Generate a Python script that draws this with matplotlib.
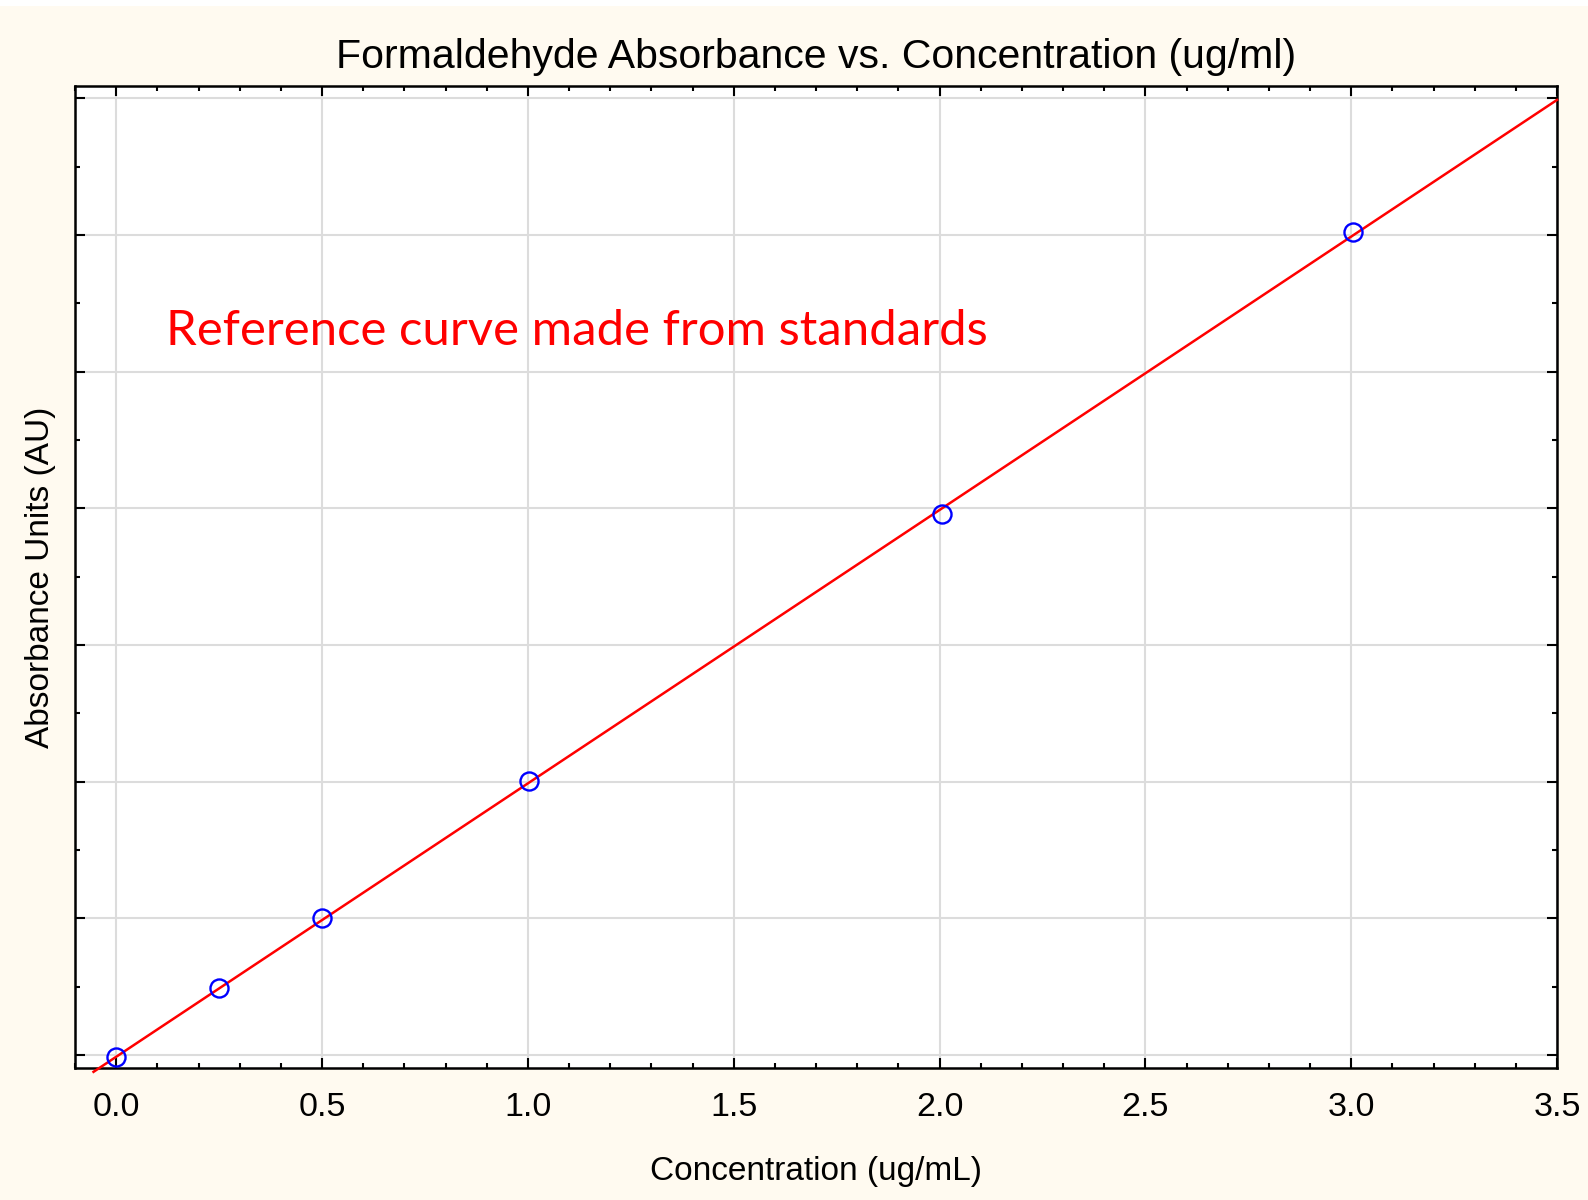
import numpy as np
import matplotlib
matplotlib.use('Agg')
import matplotlib.pyplot as plt
from matplotlib.patches import Rectangle
from matplotlib.ticker import MultipleLocator, NullFormatter

# standards
conc = [0.0, 0.25, 0.5, 1.003, 2.005, 3.005]
absorbance = [-0.0018, 0.0488, 0.100, 0.2004, 0.3956, 0.602]

title = 'Formaldehyde Absorbance vs. Concentration (ug/ml)'
x_label = 'Concentration (ug/mL)'
y_label = 'Absorbance Units (AU)'
note = 'Reference curve made from standards'

line_x_range = [-0.055, 3.5]

plt.rcParams['font.family'] = ['Liberation Sans', 'DejaVu Sans']

fig = plt.figure(figsize=(15.88, 12.0), dpi=100)
fig.patch.set_facecolor('#fffaf0')
# thin white strip along the top edge
fig.patches.append(Rectangle((0, 1 - 6 / 1200), 1, 6 / 1200, transform=fig.transFigure,
                             facecolor='white', edgecolor='none', zorder=0))

ax = fig.add_axes([75 / 1588, 132 / 1200, (1557 - 75) / 1588, (1068 - 86) / 1200])
ax.set_facecolor('white')

# linear fit through the standards
slope, intercept = np.polyfit(conc, absorbance, 1)
fx = np.array(line_x_range)
ax.plot(fx, slope * fx + intercept, color='red', lw=1.8, zorder=3, clip_on=False)

ax.plot(conc, absorbance, 'o', mfc='none', mec='blue', ms=13, mew=1.7, zorder=4)

ax.set_xlim(-0.1, 3.5)
ax.set_ylim(-0.0095, 0.709)

ax.xaxis.set_major_locator(MultipleLocator(0.5))
ax.xaxis.set_minor_locator(MultipleLocator(0.1))
ax.yaxis.set_major_locator(MultipleLocator(0.1))
ax.yaxis.set_minor_locator(MultipleLocator(0.05))
ax.xaxis.set_major_formatter(plt.FuncFormatter(lambda v, p: f'{v:.1f}'))
ax.yaxis.set_major_formatter(NullFormatter())

ax.grid(True, which='major', color='#dcdcdc', lw=1.5)
ax.set_axisbelow(True)

ax.tick_params(which='both', direction='in', top=True, right=True, width=1.5, color='black')
ax.tick_params(which='major', length=7)
ax.tick_params(which='minor', length=3.5)
ax.tick_params(axis='x', labelsize=24.5, pad=17)

for s in ax.spines.values():
    s.set_linewidth(1.8)
    s.set_color('black')

ax.set_title(title, fontsize=29.5, pad=13)
ax.set_xlabel(x_label, fontsize=24, labelpad=24)
ax.set_ylabel(y_label, fontsize=24, labelpad=10)

ax.text(0.12, 0.5196, note, color='red', fontsize=35.4, family=['Lato', 'DejaVu Sans'],
        ha='left', va='baseline', zorder=5)

fig.savefig('out.png', dpi=100, facecolor=fig.get_facecolor())
